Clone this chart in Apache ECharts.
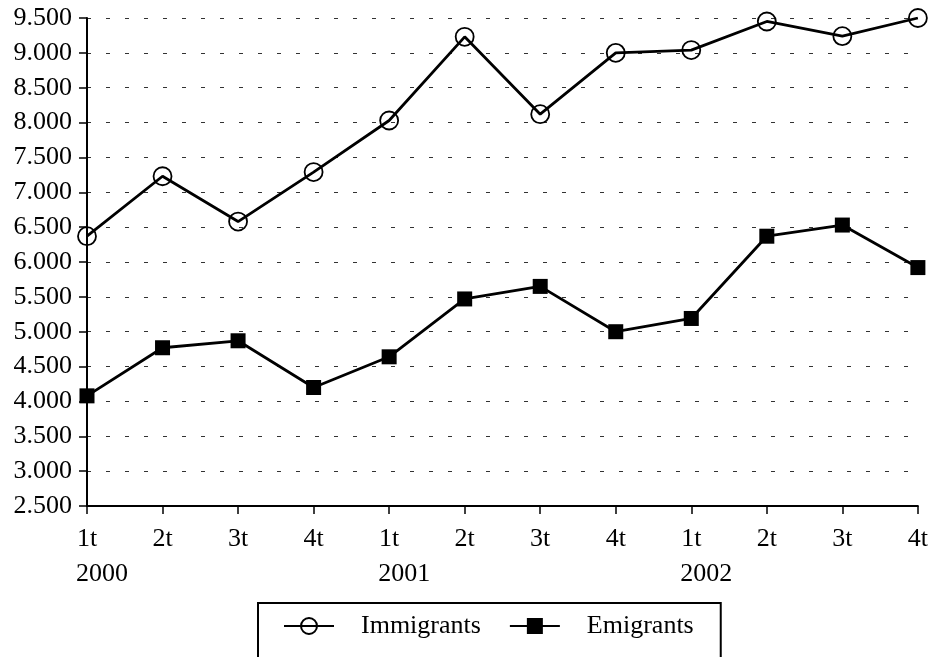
<!DOCTYPE html>
<html>
<head>
<meta charset="utf-8">
<script src="https://cdn.jsdelivr.net/npm/echarts@6/dist/echarts.min.js"></script>
<style>
html,body{margin:0;padding:0;background:#fff;}
#c{width:931px;height:657px;}
</style>
</head>
<body>
<div id="c"></div>
<script>
var quarters = ['1t','2t','3t','4t','1t','2t','3t','4t','1t','2t','3t','4t'];
var years = ['2000','','','','2001','','','','2002','','',''];
var immigrants = [6370, 7230, 6580, 7290, 8030, 9230, 8120, 9000, 9040, 9450, 9240, 9500];
var emigrants = [4080, 4770, 4870, 4200, 4640, 5470, 5650, 5000, 5190, 6370, 6530, 5920];
var yTicks = {min: 2500, max: 9500, interval: 500};

var FONT = 'Liberation Serif, Times New Roman, serif';
var FS = 26;
var chart = echarts.init(document.getElementById('c'), null, {renderer: 'canvas'});
chart.setOption({
  animation: false,
  backgroundColor: '#fff',
  grid: {left: 87, right: 12, top: 18, bottom: 151, containLabel: false},
  legend: {
    left: 258, top: 603,
    data: ['Immigrants', 'Emigrants'],
    itemWidth: 50, itemHeight: 20, itemGap: 28,
    padding: [10, 27, 24, 25],
    borderColor: '#000', borderWidth: 2,
    textStyle: {fontFamily: FONT, fontSize: FS, color: '#000', padding: [0, 0, 0, 22]}
  },
  xAxis: [{
    type: 'category', data: quarters, boundaryGap: false,
    axisLine: {lineStyle: {color: '#000', width: 2}},
    axisTick: {show: true, length: 8, lineStyle: {color: '#000', width: 1.5}, interval: 0},
    axisLabel: {interval: 0, margin: 20, color: '#000', fontFamily: FONT, fontSize: FS},
    splitLine: {show: false}
  }, {
    type: 'category', data: quarters, boundaryGap: false, position: 'bottom', offset: 35,
    axisLine: {show: false}, axisTick: {show: false}, splitLine: {show: false},
    axisLabel: {interval: 0, margin: 20, color: '#000', fontFamily: FONT, fontSize: FS,
      padding: [0, 0, 0, 30],
      formatter: function (v, i) { return years[i]; }}
  }],
  yAxis: {
    type: 'value', min: yTicks.min, max: yTicks.max, interval: yTicks.interval,
    axisLine: {show: true, lineStyle: {color: '#000', width: 2}},
    axisTick: {show: true, length: 8, lineStyle: {color: '#000', width: 1.5}},
    axisLabel: {margin: 15, color: '#000', fontFamily: FONT, fontSize: FS,
      formatter: function (v) { return (v / 1000).toFixed(3); }},
    splitLine: {show: true, lineStyle: {color: '#333', width: 1.2, type: [4, 15]}}
  },
  series: [{
    name: 'Immigrants', type: 'line', data: immigrants, xAxisIndex: 0,
    symbol: 'circle', symbolSize: 18, showAllSymbol: true,
    lineStyle: {color: '#000', width: 2.8},
    itemStyle: {color: 'rgba(255,255,255,0)', borderColor: '#000', borderWidth: 1.8},
    z: 3
  }, {
    name: 'Emigrants', type: 'line', data: emigrants, xAxisIndex: 0,
    symbol: 'rect', symbolSize: 15, showAllSymbol: true,
    lineStyle: {color: '#000', width: 2.8},
    itemStyle: {color: '#000', borderColor: '#000', borderWidth: 0},
    z: 3
  }]
});
</script>
</body>
</html>
